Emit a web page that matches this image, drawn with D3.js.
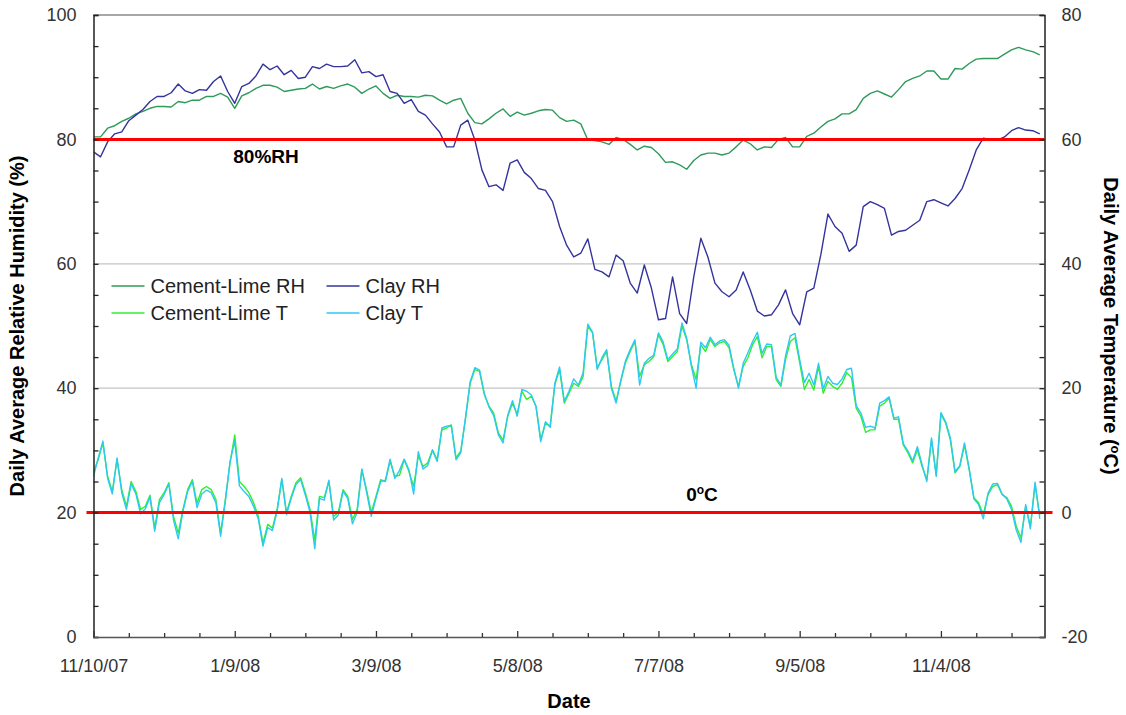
<!DOCTYPE html>
<html>
<head>
<meta charset="utf-8">
<script src="https://cdn.jsdelivr.net/npm/d3@7"></script>
<style>
  body { margin: 0; background: #fff; }
  svg { display: block; font-family: "Liberation Sans", Arial, sans-serif; }
</style>
</head>
<body>
<svg id="chart" width="1126" height="715"></svg>
<script>
// Monitoring period and sampling steps of the daily averages
const seriesStart = "2007-11-10";
const seriesEnd = "2008-12-18";
const rhStepDays = 3;
const tStepDays = 2;

// Daily average relative humidity (%), one value every rhStepDays
const rhCementLime = [
  80.4, 80.4, 81.8, 82.2, 82.9, 83.4, 84.1, 84.5, 85.0, 85.3, 85.3, 85.2, 86.1, 85.9, 86.3, 86.3,
  86.9, 86.9, 87.4, 86.8, 85.0, 87.0, 87.5, 88.2, 88.7, 88.7, 88.4, 87.7, 87.9, 88.1, 88.2, 88.9,
  88.1, 88.5, 88.2, 88.6, 88.9, 88.4, 87.4, 88.1, 88.6, 87.4, 86.6, 87.1, 86.9, 86.9, 86.8, 87.1,
  87.0, 86.3, 85.7, 86.3, 86.6, 84.2, 82.7, 82.5, 83.3, 84.2, 84.9, 83.7, 84.4, 83.9, 84.2, 84.6,
  84.8, 84.7, 83.5, 82.9, 83.1, 82.5, 79.9, 79.8, 79.6, 79.2, 80.3, 80.0, 79.2, 78.3, 78.9, 78.7,
  77.7, 76.3, 76.4, 75.9, 75.2, 76.6, 77.5, 77.8, 77.8, 77.5, 77.8, 78.8, 79.9, 79.3, 78.3, 78.8,
  78.7, 80.0, 80.3, 78.8, 78.8, 80.5, 81.0, 82.0, 82.9, 83.3, 84.1, 84.1, 84.8, 86.6, 87.4, 87.8,
  87.3, 86.8, 88.0, 89.3, 89.8, 90.2, 91.0, 91.0, 89.7, 89.7, 91.4, 91.3, 92.2, 92.9, 93.0, 93.0,
  93.0, 93.7, 94.4, 94.8, 94.4, 94.1, 93.6
];
const rhClay = [
  78.0, 77.2, 79.6, 80.9, 81.2, 83.0, 83.9, 84.8, 86.1, 86.9, 86.9, 87.5, 88.9, 87.8, 87.4, 88.0,
  87.9, 89.3, 90.2, 87.7, 85.8, 88.5, 89.0, 90.2, 92.1, 91.2, 91.8, 90.4, 91.1, 89.8, 90.0, 91.7,
  91.4, 92.1, 91.7, 91.7, 91.8, 92.8, 90.7, 90.9, 90.1, 90.4, 87.7, 87.4, 85.8, 86.4, 84.5, 83.9,
  82.5, 81.2, 78.8, 78.8, 82.3, 83.1, 79.9, 75.1, 72.4, 72.7, 71.8, 76.2, 76.7, 74.7, 73.7, 72.1,
  71.8, 70.0, 66.0, 63.0, 61.1, 61.7, 64.0, 59.1, 58.7, 57.9, 61.4, 60.5, 56.9, 55.3, 59.8, 56.1,
  51.0, 51.2, 57.9, 52.0, 50.4, 57.9, 64.1, 61.1, 56.9, 55.5, 54.7, 55.8, 58.7, 55.8, 52.4, 51.6,
  51.8, 53.4, 55.8, 52.0, 50.2, 55.5, 56.1, 61.5, 68.0, 66.0, 64.9, 62.0, 63.0, 69.2, 70.0, 69.5,
  68.9, 64.6, 65.2, 65.4, 66.2, 67.0, 70.0, 70.3, 69.8, 69.3, 70.5, 72.1, 75.1, 78.3, 80.2, 80.0,
  79.9, 80.4, 81.4, 81.9, 81.5, 81.4, 80.9
];

// Daily average temperature (°C), one value every tStepDays
const tCementLime = [
  6.6, 8.5, 11.2, 5.8, 3.4, 8.5, 3.7, 1.0, 5.0, 3.4, 0.5, 1.0, 2.8, -2.5, 2.1, 3.2,
  4.8, -0.6, -3.3, 0.5, 3.7, 5.3, 1.5, 3.7, 4.2, 3.7, 2.1, -3.3, 2.1, 8.0, 12.5, 5.0,
  4.2, 3.2, 1.6, -0.6, -4.9, -1.9, -2.5, 0.5, 5.3, 0.0, 2.6, 4.8, 5.6, 3.2, 0.5, -4.5,
  2.6, 2.4, 5.0, -0.6, 0.0, 3.7, 2.6, -1.1, 0.5, 6.9, 3.7, 0.0, 2.6, 5.3, 5.0, 8.3,
  5.8, 6.0, 8.5, 6.6, 4.2, 9.1, 7.4, 8.0, 10.1, 8.5, 13.3, 13.6, 14.1, 8.8, 9.9, 15.0,
  20.8, 23.0, 22.7, 19.0, 17.1, 16.0, 12.8, 11.7, 15.5, 17.6, 15.8, 19.5, 18.2, 18.7, 17.1, 11.7,
  14.4, 13.9, 20.6, 23.0, 17.6, 19.2, 20.8, 20.3, 21.9, 30.0, 28.9, 23.3, 24.6, 25.9, 20.3, 17.9,
  21.1, 24.1, 25.9, 27.5, 21.9, 23.8, 24.3, 25.1, 28.6, 27.0, 24.3, 25.1, 25.9, 30.0, 27.8, 23.8,
  21.4, 27.0, 25.9, 27.8, 26.7, 27.3, 27.5, 26.5, 23.0, 20.3, 23.5, 24.9, 27.0, 28.3, 24.9, 26.7,
  26.7, 21.4, 20.3, 24.6, 27.5, 28.1, 24.1, 19.8, 21.4, 19.7, 23.5, 19.2, 21.1, 20.3, 19.8, 20.8,
  22.5, 21.7, 16.8, 15.5, 12.9, 13.3, 13.3, 17.1, 17.6, 18.4, 15.0, 15.0, 10.9, 9.6, 8.0, 10.1,
  7.4, 5.3, 11.7, 6.1, 15.8, 14.4, 11.7, 6.4, 7.4, 10.9, 6.9, 2.4, 1.6, -0.3, 2.9, 4.2,
  4.5, 2.9, 2.4, 1.0, -2.2, -4.1, 1.0, -2.2, 4.5, -0.5
];
const tClay = [
  5.8, 8.8, 11.5, 5.5, 3.0, 8.8, 3.2, 0.5, 4.6, 3.0, -0.2, 0.6, 2.5, -3.0, 1.6, 2.9,
  4.6, -1.2, -4.2, 0.2, 3.4, 5.0, 0.8, 3.0, 3.6, 3.2, 1.6, -3.8, 1.8, 8.2, 11.5, 4.3,
  3.4, 2.6, 1.0, -1.0, -5.4, -2.4, -2.9, 0.2, 5.5, -0.3, 2.3, 4.5, 5.3, 2.8, 0.0, -5.8,
  2.3, 2.0, 5.2, -1.2, -0.4, 3.4, 2.3, -1.8, 0.0, 7.0, 3.3, -0.6, 2.3, 5.0, 5.2, 8.6,
  5.5, 6.8, 8.6, 6.9, 3.0, 9.8, 7.0, 7.6, 10.0, 8.2, 13.6, 13.9, 14.0, 8.5, 9.6, 15.2,
  21.0, 23.3, 22.9, 19.2, 17.0, 15.6, 12.5, 11.2, 15.7, 18.0, 15.5, 19.8, 19.5, 18.9, 17.0, 11.4,
  14.6, 13.7, 20.8, 23.4, 17.9, 19.5, 21.5, 20.5, 22.5, 30.3, 29.0, 23.0, 24.9, 26.2, 20.0, 17.6,
  21.3, 24.4, 26.2, 27.8, 20.5, 24.0, 24.8, 25.3, 28.9, 27.4, 24.6, 25.5, 26.3, 30.5, 28.0, 23.5,
  20.0, 27.4, 26.5, 28.2, 27.0, 27.6, 27.8, 26.9, 23.2, 20.0, 24.0, 25.7, 27.5, 29.0, 25.6, 27.1,
  27.0, 21.8, 20.5, 25.2, 28.4, 28.8, 24.6, 20.9, 22.4, 20.5, 24.0, 19.9, 21.9, 20.8, 20.6, 21.5,
  23.0, 23.2, 17.2, 16.0, 13.7, 13.9, 13.6, 17.6, 18.0, 18.6, 15.2, 15.4, 11.1, 9.9, 8.3, 10.6,
  7.7, 5.0, 12.0, 5.8, 16.1, 14.6, 12.0, 6.6, 7.5, 11.2, 7.1, 2.2, 1.3, -1.0, 3.1, 4.6,
  4.7, 3.0, 2.2, 0.5, -2.8, -4.8, 1.3, -2.6, 4.9, -1.0
];

// Axis ticks and reference levels
const rhMajorTicks = [0, 20, 40, 60, 80, 100];
const tMajorTicks = [-20, 0, 20, 40, 60, 80];
const gridLevels = [20, 40, 60, 80];
const rhThreshold = 80;
const freezingPoint = 0;

const seriesInfo = [
  { name: "Cement-Lime RH", color: "#2f9a5c", values: rhCementLime, step: rhStepDays, axis: "rh" },
  { name: "Clay RH",        color: "#34349c", values: rhClay,       step: rhStepDays, axis: "rh" },
  { name: "Cement-Lime T",  color: "#2ef02e", values: tCementLime,  step: tStepDays,  axis: "t" },
  { name: "Clay T",         color: "#2ec8f5", values: tClay,        step: tStepDays,  axis: "t" }
];

const svg = d3.select("#chart");
const plot = { left: 93.5, right: 1044.5, top: 15, bottom: 637 };

const start = d3.utcParse("%Y-%m-%d")(seriesStart);
const end = d3.utcParse("%Y-%m-%d")(seriesEnd);
const x = d3.scaleUtc().domain([start, end]).range([plot.left, plot.right]);
const yRH = d3.scaleLinear().domain([0, 100]).range([plot.bottom, plot.top]);
const yT = d3.scaleLinear().domain([-20, 80]).range([plot.bottom, plot.top]);

const tickColor = "#333";
const labelFont = 18;
const titleFont = 20;

// horizontal gridlines
svg.append("g").selectAll("line").data(gridLevels).join("line")
  .attr("x1", plot.left).attr("x2", plot.right)
  .attr("y1", d => yRH(d)).attr("y2", d => yRH(d))
  .attr("stroke", "#c4c4c4").attr("stroke-width", 1.2);

// top border
svg.append("line")
  .attr("x1", plot.left).attr("x2", plot.right)
  .attr("y1", plot.top).attr("y2", plot.top)
  .attr("stroke", "#8a8a8a").attr("stroke-width", 1.5);

// series lines
svg.append("clipPath").attr("id", "plotClip").append("rect")
  .attr("x", plot.left).attr("y", plot.top)
  .attr("width", plot.right - plot.left).attr("height", plot.bottom - plot.top);

const lines = svg.append("g").attr("clip-path", "url(#plotClip)");
seriesInfo.forEach(s => {
  const yScale = s.axis === "rh" ? yRH : yT;
  const line = d3.line()
    .x((d, i) => x(d3.utcDay.offset(start, i * s.step)))
    .y(d => yScale(d));
  lines.append("path")
    .datum(s.values)
    .attr("d", line)
    .attr("fill", "none")
    .attr("stroke", s.color)
    .attr("stroke-width", 1.4)
    .attr("stroke-linejoin", "round");
});

// reference levels
svg.append("line")
  .attr("x1", plot.left).attr("x2", plot.right)
  .attr("y1", yRH(rhThreshold)).attr("y2", yRH(rhThreshold))
  .attr("stroke", "#ff0000").attr("stroke-width", 3);
svg.append("line")
  .attr("x1", plot.left - 7).attr("x2", plot.right + 8)
  .attr("y1", yT(freezingPoint)).attr("y2", yT(freezingPoint))
  .attr("stroke", "#ff0000").attr("stroke-width", 3);

svg.append("text")
  .attr("x", 266).attr("y", yRH(rhThreshold) + 24)
  .attr("text-anchor", "middle")
  .attr("font-size", 19).attr("font-weight", "bold")
  .text(rhThreshold + "%RH");

const zeroLabel = svg.append("text")
  .attr("x", 702).attr("y", yT(freezingPoint) - 12)
  .attr("text-anchor", "middle")
  .attr("font-size", 19).attr("font-weight", "bold");
zeroLabel.append("tspan").text(String(freezingPoint));
zeroLabel.append("tspan").attr("font-size", 12).attr("dy", -7).text("o");
zeroLabel.append("tspan").attr("dy", 7).text("C");

// left axis
const leftAxis = svg.append("g")
  .attr("transform", `translate(${plot.left},0)`)
  .call(d3.axisLeft(yRH)
    .tickValues(d3.range(0, 101, 5))
    .tickSize(-5)
    .tickPadding(17)
    .tickFormat(d => rhMajorTicks.includes(d) ? d : ""));
leftAxis.select(".domain").attr("stroke", "#222").attr("stroke-width", 1.5);
leftAxis.selectAll(".tick line").attr("stroke", "#222").attr("stroke-width", 1.3);
leftAxis.selectAll("text").attr("font-size", labelFont).attr("fill", tickColor)
  .attr("font-family", "Liberation Sans, Arial, sans-serif");

// right axis
const rightAxis = svg.append("g")
  .attr("transform", `translate(${plot.right},0)`)
  .call(d3.axisRight(yT)
    .tickValues(d3.range(-20, 81, 5))
    .tickSize(-5)
    .tickPadding(17)
    .tickFormat(d => tMajorTicks.includes(d) ? d : ""));
rightAxis.select(".domain").attr("stroke", "#222").attr("stroke-width", 1.5);
rightAxis.selectAll(".tick line").attr("stroke", "#222").attr("stroke-width", 1.3);
rightAxis.selectAll("text").attr("font-size", labelFont).attr("fill", tickColor)
  .attr("font-family", "Liberation Sans, Arial, sans-serif");

// bottom axis: minor ticks every 15 days, labelled every 60 days
const dayTicks = d3.range(0, d3.utcDay.count(start, end) + 1, 15).map(d => d3.utcDay.offset(start, d));
const fmt = d3.utcFormat("%-m/%-d/%y");
const bottomAxis = svg.append("g")
  .attr("transform", `translate(0,${plot.bottom})`)
  .call(d3.axisBottom(x)
    .tickValues(dayTicks)
    .tickSize(-5)
    .tickPadding(22)
    .tickFormat((d, i) => i % 4 === 0 ? fmt(d) : ""));
bottomAxis.select(".domain").attr("stroke", "#555").attr("stroke-width", 1.5);
bottomAxis.selectAll(".tick line")
  .attr("stroke", "#333").attr("stroke-width", 1.3)
  .attr("y2", (d, i) => i % 4 === 0 ? -6 : -4);
bottomAxis.selectAll("text").attr("font-size", labelFont).attr("fill", tickColor)
  .attr("font-family", "Liberation Sans, Arial, sans-serif");

// axis titles
svg.append("text")
  .attr("transform", `translate(24,${(plot.top + plot.bottom) / 2}) rotate(-90)`)
  .attr("text-anchor", "middle")
  .attr("font-size", titleFont).attr("font-weight", "bold")
  .text("Daily Average Relative Humidity (%)");

const rightTitle = svg.append("text")
  .attr("transform", `translate(1104,${(plot.top + plot.bottom) / 2}) rotate(90)`)
  .attr("text-anchor", "middle")
  .attr("font-size", titleFont).attr("font-weight", "bold");
rightTitle.append("tspan").text("Daily Average Temperature (");
rightTitle.append("tspan").attr("font-size", 13).attr("dy", -7).text("o");
rightTitle.append("tspan").attr("dy", 7).text("C)");

svg.append("text")
  .attr("x", 569).attr("y", 708)
  .attr("text-anchor", "middle")
  .attr("font-size", titleFont).attr("font-weight", "bold")
  .text("Date");

// legend
const legendCols = [111.5, 326.5];
const legendRows = [286, 313];
const legend = svg.append("g");
seriesInfo.forEach((s, k) => {
  const lx = legendCols[k % 2];
  const ly = legendRows[Math.floor(k / 2)];
  legend.append("line")
    .attr("x1", lx).attr("x2", lx + 33)
    .attr("y1", ly).attr("y2", ly)
    .attr("stroke", s.color).attr("stroke-width", 1.6);
  legend.append("text")
    .attr("x", lx + 39).attr("y", ly)
    .attr("dy", "0.36em")
    .attr("font-size", 20).attr("fill", "#222")
    .text(s.name);
});
</script>
</body>
</html>
